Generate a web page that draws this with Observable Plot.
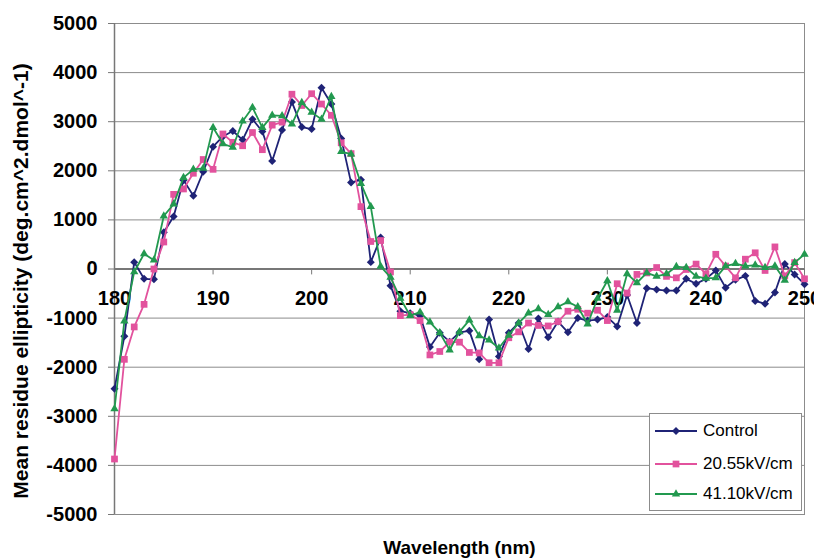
<!DOCTYPE html>
<html><head><meta charset="utf-8">
<script src="https://cdn.jsdelivr.net/npm/d3@7"></script>
<script src="https://cdn.jsdelivr.net/npm/@observablehq/plot@0.6"></script>
<style>
body{margin:0;background:#fff;}
#wrap{position:relative;width:814px;height:559px;font-family:"Liberation Sans",Arial,sans-serif;overflow:hidden;}
#legend{position:absolute;left:649px;top:413px;width:153px;height:98px;border:1px solid #8c8c8c;background:#fff;box-sizing:border-box;}
.lrow{position:absolute;left:5px;height:20px;display:flex;align-items:center;font-size:17px;color:#000;}
.lrow svg{margin-right:4px;}
</style></head><body><div id="wrap"></div>
<script>
const wavelength = [180,181,182,183,184,185,186,187,188,189,190,191,192,193,194,195,196,197,198,199,200,201,202,203,204,205,206,207,208,209,210,211,212,213,214,215,216,217,218,219,220,221,222,223,224,225,226,227,228,229,230,231,232,233,234,235,236,237,238,239,240,241,242,243,244,245,246,247,248,249,250];
const control = [-2440,-1370,140,-200,-210,750,1070,1810,1490,1980,2490,2700,2810,2630,3050,2800,2200,2830,3400,2890,2850,3690,3360,2660,1760,1820,140,640,-340,-860,-900,-950,-1590,-1300,-1480,-1290,-1260,-1840,-1030,-1780,-1300,-1100,-1630,-1010,-1390,-1070,-1290,-1000,-1050,-1030,-980,-1170,-530,-1100,-390,-420,-440,-440,-200,-300,-200,-30,-380,-220,-140,-650,-710,-480,100,-110,-310];
const kv2055 = [-3870,-1840,-1180,-720,0,550,1520,1630,1950,2230,2030,2750,2580,2510,2780,2430,2930,2990,3560,3330,3570,3360,3130,2570,2350,1270,560,580,-60,-950,-930,-1050,-1750,-1680,-1490,-1490,-1700,-1710,-1910,-1910,-1400,-1280,-1100,-1150,-1160,-1070,-860,-820,-900,-840,-1050,-300,-490,-110,-80,30,-150,-180,-10,100,-100,300,60,-180,200,330,-30,450,-140,130,-200];
const kv4110 = [-2850,-1060,-60,310,180,1080,1320,1860,2030,2050,2880,2550,2480,3010,3290,2880,3130,3120,2950,3390,3190,3050,3510,2390,2340,1740,1270,55,-170,-600,-950,-880,-1080,-1300,-1650,-1280,-1040,-1360,-1450,-1610,-1350,-1100,-900,-810,-930,-770,-670,-770,-1120,-600,-240,-840,-100,-280,-80,-150,-100,50,30,-150,-190,-180,60,110,60,80,30,60,-230,130,300];
const seriesNames = ["Control","20.55kV/cm","41.10kV/cm"];
const xTicks = [180,190,200,210,220,230,240,250];
const yTicks = [5000,4000,3000,2000,1000,0,-1000,-2000,-3000,-4000,-5000];
const xTitle = "Wavelength (nm)";
const yTitle = "Mean residue ellipticity (deg.cm^2.dmol^-1)";
const colors = ["#1f2376","#e2529d","#22994f"];
const symbols = ["diamond2","square","triangle"];
const radii = [3.6,3.8,3.1];

const allValues = [control,kv2055,kv4110];
const seriesRows = allValues.map((vals,i)=>vals.map((v,j)=>({series:seriesNames[i], x:wavelength[j], y:v})));

const seriesMarks = [];
seriesRows.forEach((rows,i)=>{
  seriesMarks.push(Plot.line(rows,{x:"x",y:"y",stroke:colors[i],strokeWidth:1.8}));
  seriesMarks.push(Plot.dot(rows,{x:"x",y:"y",symbol:symbols[i],r:radii[i],fill:colors[i],stroke:"none"}));
});

const chart = Plot.plot({
  width:814, height:559,
  marginLeft:114, marginRight:10, marginTop:23, marginBottom:45,
  x:{domain:[180,250], axis:null},
  y:{domain:[-5000,5000]},
  style:{fontFamily:"Liberation Sans, Arial, sans-serif", background:"white"},
  marks:[
    Plot.gridY(yTicks,{stroke:"#8c8c8c",strokeOpacity:1}),
    Plot.frame({stroke:"#8c8c8c"}),
    Plot.axisY(yTicks,{tickSize:6,tickPadding:11,fontSize:20,fontWeight:"bold",tickFormat:d=>String(d),label:null,stroke:"#777",fill:"#000"}),
    Plot.ruleX([180],{stroke:"#777",strokeWidth:1.5}),
    Plot.ruleY([0],{stroke:"#777",strokeWidth:2}),
    Plot.ruleX(xTicks,{x:d=>d,y1:0,y2:-120,stroke:"#777"}),
    Plot.text(xTicks,{x:d=>d,y:0,dy:30,text:d=>String(d),fontSize:20,fontWeight:"bold",fill:"#000"}),
    ...seriesMarks,
    Plot.text([yTitle],{frameAnchor:"left",dx:-93,dy:12,rotate:-90,textAnchor:"middle",lineAnchor:"middle",fontSize:21,fontWeight:"bold",fill:"#000",letterSpacing:"1.7px"}),
    Plot.text([xTitle],{frameAnchor:"bottom",dy:33,textAnchor:"middle",lineAnchor:"middle",fontSize:19,fontWeight:"bold",fill:"#000"})
  ]
});
const wrap = document.getElementById("wrap");
wrap.appendChild(chart);

// legend
const legend = document.createElement("div");
legend.id = "legend";
const rowTops = [7,40,70];
seriesNames.forEach((name,i)=>{
  const row = document.createElement("div");
  row.className = "lrow";
  row.style.top = rowTops[i]+"px";
  const svg = d3.create("svg").attr("width",44).attr("height",14);
  svg.append("line").attr("x1",0).attr("x2",42).attr("y1",7).attr("y2",7).attr("stroke",colors[i]).attr("stroke-width",1.8);
  const symMap = {diamond2:d3.symbolDiamond2, square:d3.symbolSquare, triangle:d3.symbolTriangle};
  svg.append("path").attr("transform","translate(21,7)").attr("d",d3.symbol(symMap[symbols[i]], radii[i]*radii[i]*Math.PI)()).attr("fill",colors[i]);
  row.appendChild(svg.node());
  const span = document.createElement("span");
  span.textContent = name;
  row.appendChild(span);
  legend.appendChild(row);
});
wrap.appendChild(legend);
</script></body></html>
